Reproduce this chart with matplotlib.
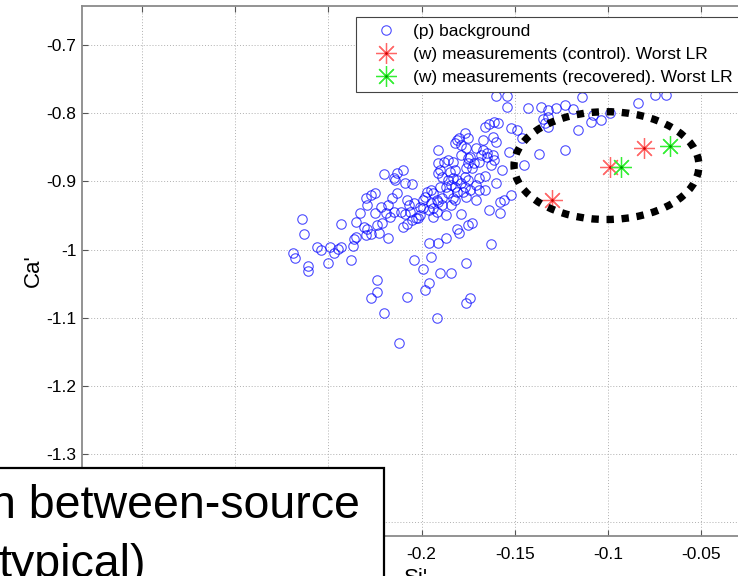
import numpy as np
import matplotlib
matplotlib.use('Agg')
import matplotlib.pyplot as plt
from matplotlib.patches import Ellipse, Rectangle

plt.rcParams['font.family'] = ['Liberation Sans', 'DejaVu Sans']
plt.rcParams['axes.unicode_minus'] = False

# (p) background population, (Si', Ca') pairs
bg_points = [
    # left tail
    (-0.264, -0.955), (-0.263, -0.977), (-0.269, -1.005), (-0.268, -1.012), (-0.261, -1.024),
    (-0.261, -1.031), (-0.256, -0.996), (-0.254, -1.001), (-0.249, -0.996), (-0.250, -1.020),
    (-0.247, -1.005), (-0.245, -0.999), (-0.243, -0.996), (-0.238, -1.015), (-0.237, -0.995),
    (-0.236, -0.984), (-0.235, -0.981), (-0.243, -0.962), (-0.235, -0.959), (-0.233, -0.946),
    (-0.231, -0.967), (-0.229, -0.970), (-0.230, -0.979), (-0.227, -0.977), (-0.225, -0.946),
    (-0.229, -0.935), (-0.230, -0.924), (-0.227, -0.920), (-0.225, -0.917), (-0.224, -0.964),
    (-0.223, -0.976), (-0.221, -0.961), (-0.218, -0.983), (-0.217, -0.952), (-0.215, -0.945),
    (-0.211, -0.945), (-0.216, -0.924), (-0.213, -0.917), (-0.220, -0.889), (-0.215, -0.895),
    (-0.213, -0.888), (-0.210, -0.883), (-0.209, -0.902), (-0.205, -0.904), (-0.208, -0.927),
    (-0.207, -0.935), (-0.210, -0.967), (-0.208, -0.962), (-0.205, -0.957), (-0.203, -0.954),
    (-0.204, -1.015), (-0.224, -1.045), (-0.224, -1.062), (-0.227, -1.071), (-0.208, -1.069),
    (-0.220, -1.093), (-0.212, -1.137), (-0.219, -0.946), (-0.214, -0.898), (-0.204, -0.932),
    (-0.218, -0.935), (-0.222, -0.937),
    # lower middle
    (-0.194, -0.952), (-0.179, -0.948), (-0.164, -0.942), (-0.158, -0.946), (-0.181, -0.970),
    (-0.180, -0.976), (-0.175, -0.964), (-0.173, -0.961), (-0.196, -0.990), (-0.191, -0.990),
    (-0.163, -0.992), (-0.195, -1.011), (-0.199, -1.028), (-0.190, -1.034), (-0.184, -1.034),
    (-0.176, -1.020), (-0.196, -1.049), (-0.198, -1.059), (-0.176, -1.078), (-0.174, -1.071),
    (-0.192, -1.100), (-0.152, -0.920), (-0.158, -0.930), (-0.187, -0.983), (-0.156, -0.927),
    # dense core
    (-0.199, -0.927), (-0.198, -0.923), (-0.197, -0.916), (-0.195, -0.913), (-0.194, -0.917),
    (-0.192, -0.927), (-0.195, -0.932), (-0.199, -0.939), (-0.196, -0.942), (-0.194, -0.939),
    (-0.191, -0.930), (-0.189, -0.935), (-0.189, -0.924), (-0.190, -0.908), (-0.187, -0.908),
    (-0.184, -0.905), (-0.182, -0.908), (-0.186, -0.898), (-0.189, -0.894), (-0.191, -0.888),
    (-0.183, -0.895), (-0.181, -0.898), (-0.179, -0.902), (-0.177, -0.908), (-0.178, -0.916),
    (-0.183, -0.924), (-0.176, -0.923), (-0.191, -0.873), (-0.188, -0.872), (-0.186, -0.869),
    (-0.183, -0.872), (-0.179, -0.861), (-0.175, -0.866), (-0.190, -0.883), (-0.191, -0.854),
    (-0.182, -0.844), (-0.180, -0.836), (-0.177, -0.829), (-0.176, -0.851), (-0.175, -0.873),
    (-0.175, -0.898), (-0.174, -0.864), (-0.172, -0.873), (-0.169, -0.872), (-0.168, -0.861),
    (-0.165, -0.864), (-0.161, -0.869), (-0.163, -0.876), (-0.176, -0.880), (-0.173, -0.880),
    (-0.177, -0.894), (-0.166, -0.892), (-0.157, -0.883), (-0.167, -0.854), (-0.165, -0.858),
    (-0.162, -0.861), (-0.171, -0.851), (-0.160, -0.842), (-0.162, -0.835), (-0.181, -0.839),
    (-0.175, -0.836), (-0.179, -0.847), (-0.167, -0.839), (-0.153, -0.857), (-0.202, -0.954),
    (-0.201, -0.949), (-0.187, -0.949), (-0.184, -0.935), (-0.182, -0.927), (-0.171, -0.905),
    (-0.169, -0.895), (-0.174, -0.913), (-0.209, -0.948), (-0.206, -0.945), (-0.201, -0.937),
    (-0.192, -0.945), (-0.186, -0.917), (-0.181, -0.916), (-0.185, -0.886), (-0.182, -0.883),
    (-0.169, -0.913), (-0.166, -0.913), (-0.160, -0.902), (-0.171, -0.927),
    # upper right arm
    (-0.160, -0.775), (-0.154, -0.775), (-0.154, -0.791), (-0.143, -0.792), (-0.136, -0.791),
    (-0.132, -0.806), (-0.135, -0.808), (-0.159, -0.814), (-0.164, -0.816), (-0.152, -0.822),
    (-0.149, -0.825), (-0.137, -0.860), (-0.145, -0.876), (-0.123, -0.854), (-0.114, -0.776),
    (-0.084, -0.785), (-0.075, -0.773), (-0.069, -0.773), (-0.132, -0.795), (-0.128, -0.792),
    (-0.123, -0.788), (-0.119, -0.794), (-0.134, -0.814), (-0.132, -0.820), (-0.116, -0.825),
    (-0.108, -0.803), (-0.109, -0.813), (-0.104, -0.810), (-0.099, -0.800), (-0.146, -0.836),
    (-0.166, -0.820), (-0.161, -0.813),
]

# (w) worst-LR measurements
ctrl_si = [-0.130, -0.099, -0.081]
ctrl_ca = [-0.927, -0.879, -0.851]
rec_si = [-0.093, -0.067]
rec_ca = [-0.879, -0.848]

xticks = [-0.35, -0.3, -0.25, -0.2, -0.15, -0.1, -0.05]
# the left labels sit under the caption box in the slide
xtick_labels = ['', '', '', '-0.2', '-0.15', '-0.1', '-0.05']
yticks = [-1.4, -1.3, -1.2, -1.1, -1.0, -0.9, -0.8, -0.7]
ytick_labels = ['', '-1.3', '-1.2', '-1.1', '-1', '-0.9', '-0.8', '-0.7']

labels = ['(p) background',
          '(w) measurements (control). Worst LR',
          '(w) measurements (recovered). Worst LR']

bg_si, bg_ca = np.array(bg_points).T

fig = plt.figure(figsize=(7.38, 5.76), dpi=100)
ax = fig.add_axes([82 / 738, 40 / 576, 668 / 738, 530 / 576])

h_bg, = ax.plot(bg_si, bg_ca, 'o', ms=6.8, mfc='none', mec='blue', mew=0.8, alpha=0.7, zorder=3)
star = (8, 2, 0)
h_c, = ax.plot(ctrl_si, ctrl_ca, ls='none', marker=star, ms=15, mec='#ff6666', mew=0.9, zorder=4)
h_cd, = ax.plot(ctrl_si, ctrl_ca, ls='none', marker='o', ms=2, mfc='#d00000', mec='none', zorder=4)
h_r, = ax.plot(rec_si, rec_ca, ls='none', marker=star, ms=15, mec='#33ee33', mew=0.9, zorder=4)
h_rd, = ax.plot(rec_si, rec_ca, ls='none', marker='o', ms=2, mfc='#009900', mec='none', zorder=4)

# highlight ring
ring = Ellipse((-0.1009, -0.877), 0.0991, 0.158, fill=False, edgecolor='black',
               linewidth=5.3, linestyle=(0, (1, 1.05)), zorder=5)
ax.add_patch(ring)

ax.set_xlim(-0.382, -0.024)
ax.set_ylim(-1.42, -0.643)
ax.set_xticks(xticks)
ax.set_xticklabels(xtick_labels)
ax.set_yticks(yticks)
ax.set_yticklabels(ytick_labels)
ax.tick_params(direction='in', length=4, width=0.8, color='#555555', labelsize=12.5,
               top=True, right=True, pad=4)
ax.tick_params(axis='x', pad=8)
ax.grid(True, linestyle=(0, (1, 2)), color='#b0b0b0', linewidth=0.7)
for s in ax.spines.values():
    s.set_color('#8a8a8a')
    s.set_linewidth(1.3)

ax.set_xlabel("Si'", fontsize=16, labelpad=4)
ax.set_ylabel("Ca'", fontsize=16, labelpad=2)

leg = ax.legend([h_bg, (h_c, h_cd), (h_r, h_rd)], labels, loc='upper right',
                bbox_to_anchor=(740 / 738, 1 - 17 / 576), bbox_transform=fig.transFigure,
                fontsize=12.5, fancybox=False, framealpha=1, edgecolor='#444444',
                borderaxespad=0, borderpad=0.4, labelspacing=0.46,
                handlelength=2.75, handletextpad=0.18)
leg.get_frame().set_linewidth(0.8)
leg.set_zorder(6)

# overlapping caption box from the slide
fig.add_artist(Rectangle((-0.02, -0.02), 384 / 738 + 0.02, 108 / 576 + 0.02,
                         transform=fig.transFigure, facecolor='white',
                         edgecolor='black', linewidth=1.6, zorder=10))
fig.text(360 / 738, 58 / 576, 'n between-source', ha='right', va='baseline',
         fontsize=33.5, zorder=11)
fig.text(146 / 738, -1 / 576, 'typical)', ha='right', va='baseline',
         fontsize=33.5, zorder=11)

fig.savefig('out.png', dpi=100)
